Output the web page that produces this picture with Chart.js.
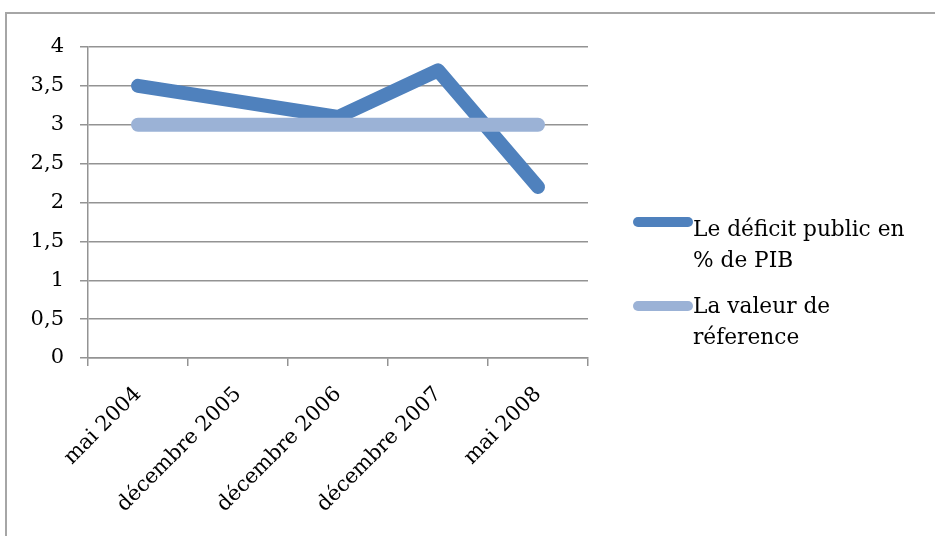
<!DOCTYPE html>
<html>
<head>
<meta charset="utf-8">
<script src="https://cdn.jsdelivr.net/npm/chart.js@4"></script>
<style>
  html, body { margin: 0; padding: 0; background: #fff; overflow: hidden; width: 935px; height: 536px; }
  #zone { position: absolute; left: 0; top: 0; width: 935px; height: 536px; }
  .leg { position: absolute; left: 633px; font-family: "DejaVu Serif"; font-size: 21.7px; line-height: 31px; color: #000; }
  .leg .trait { position: absolute; left: 0; width: 60px; height: 10px; border-radius: 5px; }
  .leg .txt { margin-left: 60px; }
</style>
</head>
<body>
<div id="zone"><canvas id="grafico" width="935" height="536"></canvas></div>
<div class="leg" style="top:213px"><span class="trait" style="top:4px;background:#4f81bd"></span><div class="txt">Le déficit public en<br>% de PIB</div></div>
<div class="leg" style="top:290px"><span class="trait" style="top:11px;background:#9bb2d6"></span><div class="txt">La valeur de<br>réference</div></div>
<script>
// Donnees
const categories = ["mai 2004", "décembre 2005", "décembre 2006", "décembre 2007", "mai 2008"];
const deficit = [3.5, 3.3, 3.1, 3.7, 2.2];
const reference = [3, 3, 3, 3, 3];

document.addEventListener("DOMContentLoaded", function () {
  grafico();
});

// Cadre gris autour du graphique (coupe a droite et en bas)
const cadre = {
  id: "cadre",
  beforeDraw(chart) {
    const c = chart.ctx;
    c.save();
    c.strokeStyle = "#a6a6a6";
    c.lineWidth = 2;
    c.beginPath();
    c.moveTo(6, 540);
    c.lineTo(6, 13);
    c.lineTo(940, 13);
    c.stroke();
    c.restore();
  },
};

function grafico() {
  const ctx = document.getElementById("grafico").getContext("2d");
  const police = { family: "DejaVu Serif", size: 21 };
  const gris = "#939393";

  new Chart(ctx, {
    type: "line",
    data: {
      labels: categories,
      datasets: [
        {
          label: "Le déficit public en % de PIB",
          data: deficit,
          borderColor: "#4f81bd",
          borderWidth: 14,
          borderCapStyle: "round",
          borderJoinStyle: "round",
          pointRadius: 0,
          order: 1,
        },
        {
          label: "La valeur de réference",
          data: reference,
          borderColor: "#9bb2d6",
          borderWidth: 14,
          borderCapStyle: "round",
          borderJoinStyle: "round",
          pointRadius: 0,
          order: 0,
        },
      ],
    },
    options: {
      responsive: false,
      animation: false,
      layout: { padding: { left: 0, top: 47, right: 347, bottom: 0 } },
      plugins: { legend: { display: false }, tooltip: { enabled: false } },
      scales: {
        x: {
          offset: true,
          grid: { offset: true, drawOnChartArea: false, tickLength: 8, color: gris, lineWidth: 1.5 },
          border: { color: gris, width: 1.5 },
          ticks: { font: police, color: "#000", maxRotation: 45, minRotation: 45, padding: 16 },
          afterFit: (s) => { s.height = 178; },
        },
        y: {
          min: 0,
          max: 4,
          ticks: {
            stepSize: 0.5,
            font: police,
            color: "#000",
            padding: 16,
            callback: (v) => String(v).replace(".", ","),
          },
          grid: { color: gris, tickLength: 8, lineWidth: 1.5 },
          border: { color: gris, width: 1.5 },
          afterFit: (s) => { s.width = 88; },
        },
      },
    },
    plugins: [cadre],
  });
}
</script>
</body>
</html>
